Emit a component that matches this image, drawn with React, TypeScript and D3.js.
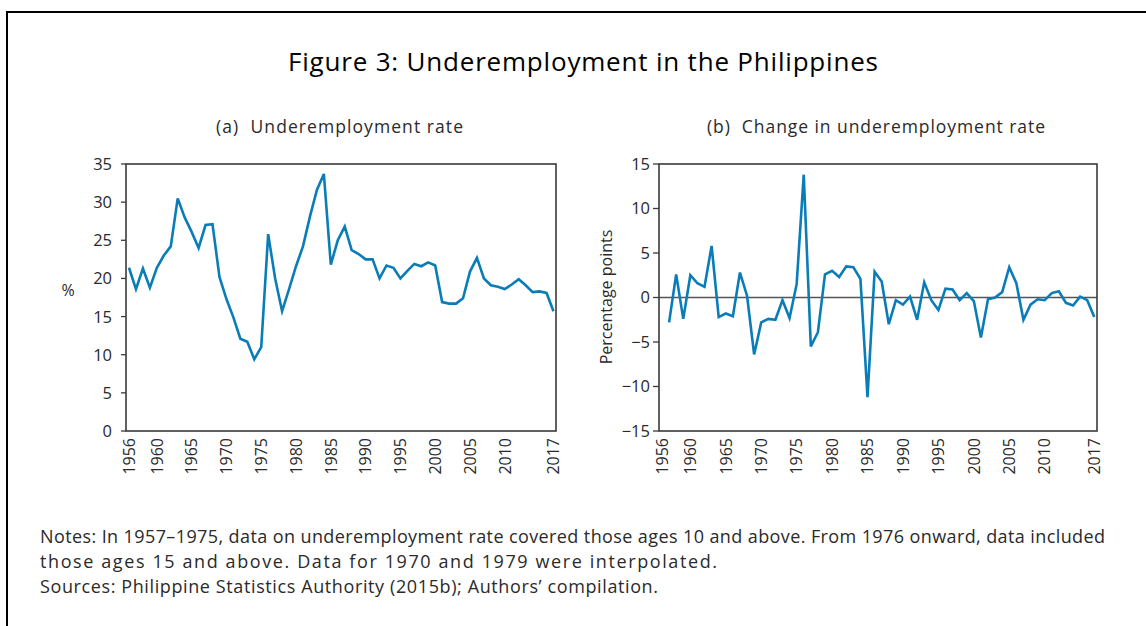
import React from "react";
import * as d3 from "d3";

const years: number[] = d3.range(1956, 2018);
const rate: number[] = [
  21.4, 18.6, 21.3, 18.8, 21.4, 23.0, 24.2, 30.5, 28.0, 26.1,
  24.0, 27.0, 27.1, 20.2, 17.3, 14.9, 12.1, 11.7, 9.4, 11.0,
  25.8, 20.0, 15.7, 18.6, 21.6, 24.2, 28.1, 31.6, 33.7, 21.8,
  25.0, 26.8, 23.7, 23.2, 22.5, 22.5, 20.0, 21.7, 21.4, 20.0,
  21.0, 21.9, 21.6, 22.1, 21.7, 16.9, 16.7, 16.7, 17.4, 20.9,
  22.7, 20.0, 19.1, 18.9, 18.6, 19.2, 19.9, 19.1, 18.2, 18.3,
  18.1, 15.7,
];
const changeYears: number[] = d3.range(1957, 2018);
const change: number[] = [
  -2.8, 2.6, -2.4, 2.5, 1.6, 1.2, 5.8, -2.2, -1.8, -2.1,
  2.8, 0.2, -6.4, -2.8, -2.4, -2.5, -0.3, -2.3, 1.5, 13.8,
  -5.5, -3.9, 2.6, 3.0, 2.3, 3.5, 3.4, 2.1, -11.2, 2.9,
  1.8, -3.0, -0.3, -0.8, 0.1, -2.5, 1.7, -0.3, -1.4, 1.0,
  0.9, -0.3, 0.5, -0.4, -4.5, -0.2, 0.0, 0.6, 3.4, 1.6,
  -2.5, -0.8, -0.2, -0.3, 0.5, 0.7, -0.6, -0.9, 0.1, -0.3,
  -2.2,
];
const xTickYears: number[] = [1956, 1960, 1965, 1970, 1975, 1980, 1985, 1990, 1995, 2000, 2005, 2010, 2017];
const leftYTicks: number[] = [0, 5, 10, 15, 20, 25, 30, 35];
const rightYTicks: number[] = [-15, -10, -5, 0, 5, 10, 15];
const noteLines: string[] = [
  "Notes: In 1957–1975, data on underemployment rate covered those ages 10 and above. From 1976 onward, data included",
  "those ages 15 and above. Data for 1970 and 1979 were interpolated.",
  "Sources: Philippine Statistics Authority (2015b); Authors’ compilation.",
];
const noteWidths: number[] = [1065, 677, 618];

const FONT = "'Open Sans', 'Noto Sans', sans-serif";
const LINE = "#0a7db8";
const AXIS = "#3a3a3a";
const TEXT = "#2a2a2a";

const fmt = (v: number) => (v < 0 ? "\u2212" + Math.abs(v) : String(v));

interface PanelProps {
  xs: number[];
  ys: number[];
  frame: [number, number, number, number];
  xRange: [number, number];
  yDomain: [number, number];
  yTicks: number[];
  tickLen: number;
  labelGap: number;
  zeroLine?: boolean;
}

function Panel({ xs, ys, frame, xRange, yDomain, yTicks, tickLen, labelGap, zeroLine }: PanelProps) {
  const [fx0, fy0, fx1, fy1] = frame;
  const x = d3.scaleLinear().domain([1956, 2017]).range(xRange);
  const y = d3.scaleLinear().domain(yDomain).range([fy1, fy0]);
  const line = d3
    .line<number>()
    .x((_, i) => x(xs[i]))
    .y((d) => y(d));
  return (
    <g>
      {zeroLine && (
        <line x1={fx0} x2={fx1} y1={y(0)} y2={y(0)} stroke="#555" strokeWidth={1.6} />
      )}
      <path d={line(ys) || ""} fill="none" stroke={LINE} strokeWidth={2.6} strokeLinejoin="miter" />
      <rect x={fx0} y={fy0} width={fx1 - fx0} height={fy1 - fy0} fill="none" stroke={AXIS} strokeWidth={1.6} />
      {yTicks.map((t) => (
        <g key={t}>
          <line x1={fx0 - tickLen} x2={fx0} y1={y(t)} y2={y(t)} stroke={AXIS} strokeWidth={1.3} />
          <text x={fx0 - labelGap} y={y(t)} dy="0.36em" textAnchor="end" fontSize={16.5} fill={TEXT} fontFamily={FONT}>
            {fmt(t)}
          </text>
        </g>
      ))}
      {xTickYears.map((t) => (
        <text
          key={t}
          transform={`translate(${x(t)},${fy1 + 7}) rotate(-90)`}
          dy="0.36em"
          textAnchor="end"
          fontSize={16}
          fill={TEXT}
          fontFamily={FONT}
        >
          {t}
        </text>
      ))}
    </g>
  );
}

export default function App() {
  return (
    <svg width={1146} height={626} style={{ position: "absolute", left: 0, top: 0, background: "#fff" }}>
      <rect x={7} y={12} width={1160} height={640} fill="#fff" stroke="#000" strokeWidth={2} />
      <text x={288} y={71} textLength={590} fontSize={26} fill="#000" fontFamily={FONT}>
        Figure 3: Underemployment in the Philippines
      </text>
      <text x={216} y={133} textLength={247} fontSize={17.5} fill={TEXT} fontFamily={FONT} style={{ whiteSpace: "pre" }}>
        {"(a)  Underemployment rate"}
      </text>
      <text x={707} y={133} textLength={338} fontSize={17.5} fill={TEXT} fontFamily={FONT} style={{ whiteSpace: "pre" }}>
        {"(b)  Change in underemployment rate"}
      </text>
      <Panel
        xs={years}
        ys={rate}
        frame={[126, 164, 556, 431]}
        xRange={[129, 553.5]}
        yDomain={[0, 35]}
        yTicks={leftYTicks}
        tickLen={5}
        labelGap={14}
      />
      <text x={68} y={296} textAnchor="middle" fontSize={16} fill={TEXT} fontFamily={FONT}>%</text>
      <Panel
        xs={changeYears}
        ys={change}
        frame={[659, 164, 1097, 431]}
        xRange={[662, 1094.3]}
        yDomain={[-15, 15]}
        yTicks={rightYTicks}
        tickLen={6}
        labelGap={9}
        zeroLine
      />
      <text
        transform="translate(606,297) rotate(-90)"
        dy="0.36em"
        textAnchor="middle"
        fontSize={16}
        fill={TEXT}
        fontFamily={FONT}
      >
        Percentage points
      </text>
      <g fontSize={18} fill={TEXT} fontFamily={FONT}>
        {noteLines.map((s, i) => (
          <text key={i} x={40} y={543 + i * 25} textLength={noteWidths[i]}>
            {s}
          </text>
        ))}
      </g>
    </svg>
  );
}
